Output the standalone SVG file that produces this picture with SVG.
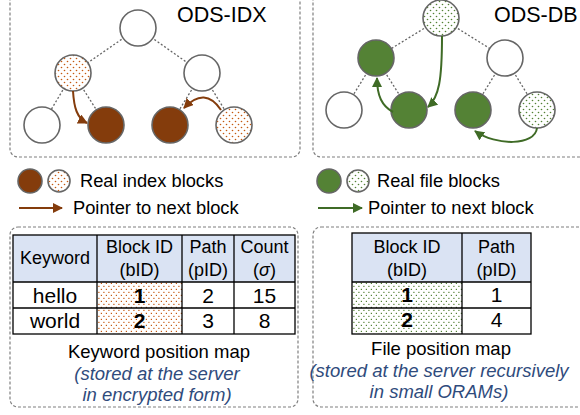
<svg xmlns="http://www.w3.org/2000/svg" width="580" height="415" viewBox="0 0 580 415">
<style>
text{font-family:"Liberation Sans",Arial,sans-serif;fill:#000}
.box{fill:none;stroke:#7f7f7f;stroke-width:1.2;stroke-dasharray:3,2}
.node{stroke:#666;stroke-width:1.6}
.w{fill:#fff}
.br{fill:#843c0c}
.gr{fill:#548235}
.edge{stroke:#666;stroke-width:1.3;stroke-dasharray:2,2;fill:none}
.pb{stroke:#843c0c;stroke-width:2;fill:none}
.pg{stroke:#3f6b26;stroke-width:2;fill:none}
.hdr{fill:#dae3f3}
.grid{fill:none;stroke:#000;stroke-width:1.3}
.h{font-size:18px;text-anchor:middle}
.c{font-size:21px;text-anchor:middle}
.cap{font-size:18.5px;text-anchor:middle}
.it{font-size:18.5px;text-anchor:middle;font-style:italic;fill:#2f4b7c}
.leg{font-size:18.3px}
.title{font-size:21.5px}
</style>
<defs>
<pattern id="dB" width="6" height="6" patternUnits="userSpaceOnUse">
<rect width="6" height="6" fill="#fff"/>
<circle cx="1.5" cy="1.5" r="0.8" fill="#c55a11"/>
<circle cx="4.5" cy="4.5" r="0.8" fill="#c55a11"/>
</pattern>
<pattern id="dG" width="6" height="6" patternUnits="userSpaceOnUse">
<rect width="6" height="6" fill="#fff"/>
<circle cx="1.5" cy="1.5" r="0.8" fill="#548235"/>
<circle cx="4.5" cy="4.5" r="0.8" fill="#548235"/>
</pattern>
<pattern id="cB" width="5" height="6" patternUnits="userSpaceOnUse">
<rect width="5" height="6" fill="#fff"/>
<rect x="0.8" y="0.8" width="1.2" height="1.2" fill="#c55a11"/>
<rect x="3.3" y="3.8" width="1.2" height="1.2" fill="#c55a11"/>
</pattern>
<pattern id="cG" width="5" height="6" patternUnits="userSpaceOnUse">
<rect width="5" height="6" fill="#fff"/>
<rect x="0.8" y="0.8" width="1.2" height="1.2" fill="#548235"/>
<rect x="3.3" y="3.8" width="1.2" height="1.2" fill="#548235"/>
</pattern>
<marker id="aB" viewBox="0 0 10 10" refX="9" refY="5" markerWidth="10" markerHeight="10" markerUnits="userSpaceOnUse" orient="auto">
<path d="M0,0 L10,5 L0,10 z" fill="#843c0c"/>
</marker>
<marker id="aG" viewBox="0 0 10 10" refX="9" refY="5" markerWidth="10" markerHeight="10" markerUnits="userSpaceOnUse" orient="auto">
<path d="M0,0 L10,5 L0,10 z" fill="#3f6b26"/>
</marker>
</defs>

<!-- panels -->
<g id="panels">
<rect class="box" x="10" y="-10" width="290" height="167" rx="8"/>
<rect class="box" x="313" y="-10" width="280" height="167" rx="8"/>
<rect class="box" x="10" y="227" width="288" height="180" rx="8"/>
<rect class="box" x="313" y="227" width="280" height="180" rx="8"/>
</g>

<!-- connectors -->
<g id="connectors">
<line class="edge" x1="138" y1="28" x2="73" y2="73"/>
<line class="edge" x1="138" y1="28" x2="202" y2="73"/>
<line class="edge" x1="73" y1="73" x2="42" y2="125"/>
<line class="edge" x1="73" y1="73" x2="106" y2="125"/>
<line class="edge" x1="202" y1="73" x2="170" y2="125"/>
<line class="edge" x1="202" y1="73" x2="234" y2="125"/>
<line class="edge" x1="441" y1="18" x2="376" y2="58"/>
<line class="edge" x1="441" y1="18" x2="505" y2="58"/>
<line class="edge" x1="376" y1="58" x2="344" y2="110"/>
<line class="edge" x1="376" y1="58" x2="409" y2="110"/>
<line class="edge" x1="505" y1="58" x2="473" y2="110"/>
<line class="edge" x1="505" y1="58" x2="537" y2="110"/>
</g>

<!-- ODS-IDX tree -->
<g id="idx-root"><circle class="node w" cx="138" cy="28" r="18"/></g>
<g id="idx-l"><circle class="node" fill="url(#dB)" cx="73" cy="73" r="18"/></g>
<g id="idx-r"><circle class="node w" cx="202" cy="73" r="18"/></g>
<g id="idx-ll"><circle class="node w" cx="42" cy="125" r="18"/></g>
<g id="idx-lr"><circle class="node br" cx="106" cy="125" r="18"/></g>
<g id="idx-rl"><circle class="node br" cx="170" cy="125" r="18"/></g>
<g id="idx-rr"><circle class="node" fill="url(#dB)" cx="234" cy="125" r="18"/></g>
<g id="idx-title"><text class="title" x="177" y="22">ODS-IDX</text></g>

<!-- ODS-DB tree -->
<g id="db-root"><circle class="node" fill="url(#dG)" cx="441" cy="18" r="18"/></g>
<g id="db-l"><circle class="node gr" cx="376" cy="58" r="18"/></g>
<g id="db-r"><circle class="node w" cx="505" cy="58" r="18"/></g>
<g id="db-ll"><circle class="node w" cx="344" cy="110" r="18"/></g>
<g id="db-lr"><circle class="node gr" cx="409" cy="110" r="18"/></g>
<g id="db-rl"><circle class="node gr" cx="473" cy="110" r="18"/></g>
<g id="db-rr"><circle class="node" fill="url(#dG)" cx="537" cy="110" r="18"/></g>
<g id="db-title"><text class="title" x="494" y="22">ODS-DB</text></g>

<!-- pointers -->
<g id="pointers">
<path class="pb" d="M73,91 C74,108 77,118 87,123" marker-end="url(#aB)"/>
<path class="pb" d="M221,110 Q205,86 184,108" marker-end="url(#aB)"/>
<path class="pg" d="M442,36 C442,80 439,97 428,107" marker-end="url(#aG)"/>
<path class="pg" d="M393,112 C382,106 377,96 377,78" marker-end="url(#aG)"/>
<path class="pg" d="M537,128 C535,146 496,146 475,131" marker-end="url(#aG)"/>
</g>

<!-- legend -->
<g id="legend-idx">
<circle class="node br" cx="30" cy="181" r="12"/>
<circle class="node" fill="url(#dB)" cx="59" cy="181" r="11"/>
<text class="leg" x="80" y="187">Real index blocks</text>
<line class="pb" x1="19" y1="208" x2="62" y2="208" marker-end="url(#aB)"/>
<text class="leg" x="73" y="214">Pointer to next block</text>
</g>
<g id="legend-db">
<circle class="node gr" cx="329" cy="181" r="12"/>
<circle class="node" fill="url(#dG)" cx="358" cy="181" r="11"/>
<text class="leg" x="377" y="187">Real file blocks</text>
<line class="pg" x1="318" y1="208" x2="362" y2="208" marker-end="url(#aG)"/>
<text class="leg" x="368" y="214">Pointer to next block</text>
</g>

<!-- keyword position map -->
<g id="keyword-map">
<rect class="hdr" x="13" y="235" width="282" height="47"/>
<rect fill="url(#cB)" x="97" y="282" width="85" height="52"/>
<rect class="grid" x="13" y="235" width="282" height="99"/>
<line class="grid" x1="13" y1="282" x2="295" y2="282"/>
<line class="grid" x1="13" y1="308" x2="295" y2="308"/>
<line class="grid" x1="97" y1="235" x2="97" y2="334"/>
<line class="grid" x1="182" y1="235" x2="182" y2="334"/>
<line class="grid" x1="234" y1="235" x2="234" y2="334"/>
<text class="h" x="55" y="264">Keyword</text>
<text class="h" x="139.5" y="253">Block ID</text>
<text class="h" x="139.5" y="276">(bID)</text>
<text class="h" x="208" y="253">Path</text>
<text class="h" x="208" y="276">(pID)</text>
<text class="h" x="264.5" y="253">Count</text>
<text class="h" x="264.5" y="276">(<tspan font-style="italic">σ</tspan>)</text>
<text class="c" x="55" y="303">hello</text>
<text class="c" x="139.5" y="303" font-weight="bold">1</text>
<text class="c" x="208" y="303">2</text>
<text class="c" x="264.5" y="303">15</text>
<text class="c" x="55" y="328">world</text>
<text class="c" x="139.5" y="328" font-weight="bold">2</text>
<text class="c" x="208" y="328">3</text>
<text class="c" x="264.5" y="328">8</text>
<text class="cap" x="159" y="358">Keyword position map</text>
<text class="it" x="157" y="380">(stored at the server</text>
<text class="it" x="157" y="401">in encrypted form)</text>
</g>

<!-- file position map -->
<g id="file-map">
<rect class="hdr" x="352" y="233" width="179" height="49"/>
<rect fill="url(#cG)" x="352" y="282" width="110" height="52"/>
<rect class="grid" x="352" y="233" width="179" height="101"/>
<line class="grid" x1="352" y1="282" x2="531" y2="282"/>
<line class="grid" x1="352" y1="308" x2="531" y2="308"/>
<line class="grid" x1="462" y1="233" x2="462" y2="334"/>
<text class="h" x="407" y="253">Block ID</text>
<text class="h" x="407" y="276">(bID)</text>
<text class="h" x="496.5" y="253">Path</text>
<text class="h" x="496.5" y="276">(pID)</text>
<text class="c" x="407" y="302" font-weight="bold">1</text>
<text class="c" x="496.5" y="302">1</text>
<text class="c" x="407" y="327" font-weight="bold">2</text>
<text class="c" x="496.5" y="327">4</text>
<text class="cap" x="441" y="355">File position map</text>
<text class="it" x="439" y="377">(stored at the server recursively</text>
<text class="it" x="439" y="398">in small ORAMs)</text>
</g>
</svg>
